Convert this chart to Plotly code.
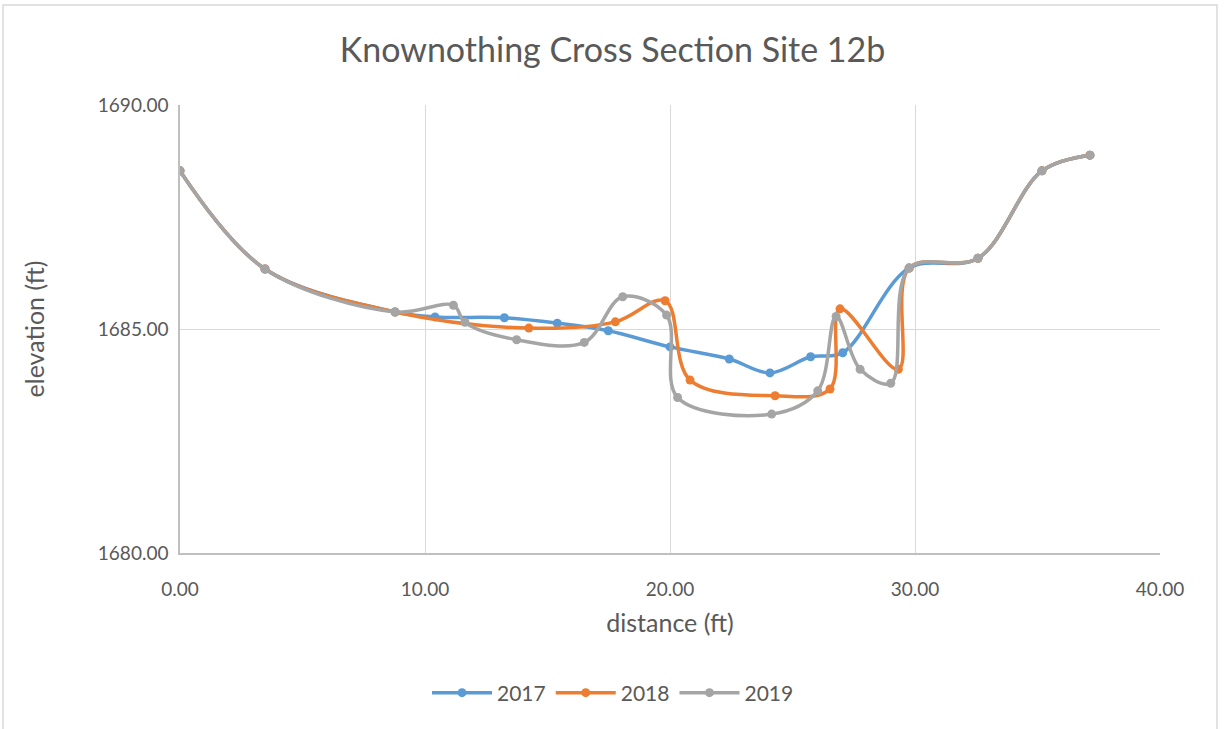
import plotly.graph_objects as go

# Survey stations (distance along the transect, ft) and surveyed elevations (ft)
dist_2017 = [0.00, 3.47, 8.78, 10.41, 13.24, 15.40, 17.48, 20.00, 22.42, 24.08, 25.74, 27.05, 29.76, 32.57, 35.18, 37.14]
elev_2017 = [1688.53, 1686.34, 1685.38, 1685.27, 1685.25, 1685.13, 1684.96, 1684.60, 1684.33, 1684.02, 1684.38, 1684.47, 1686.36, 1686.58, 1688.53, 1688.88]

dist_2018 = [0.00, 3.47, 8.78, 14.24, 17.77, 19.80, 20.82, 24.29, 26.53, 26.94, 29.32, 29.76, 32.57, 35.18, 37.14]
elev_2018 = [1688.53, 1686.34, 1685.38, 1685.02, 1685.16, 1685.63, 1683.86, 1683.51, 1683.66, 1685.45, 1684.10, 1686.36, 1686.58, 1688.53, 1688.88]

dist_2019 = [0.00, 3.47, 8.78, 11.16, 11.63, 13.74, 16.50, 18.07, 19.86, 20.31, 24.15, 26.03, 26.78, 27.76, 29.01, 29.76, 32.57, 35.18, 37.14]
elev_2019 = [1688.53, 1686.34, 1685.38, 1685.53, 1685.15, 1684.76, 1684.70, 1685.72, 1685.31, 1683.47, 1683.10, 1683.62, 1685.28, 1684.10, 1683.79, 1686.36, 1686.58, 1688.53, 1688.88]

series = [
    ("2017", dist_2017, elev_2017, "#5B9BD5"),
    ("2018", dist_2018, elev_2018, "#ED7D31"),
    ("2019", dist_2019, elev_2019, "#A5A5A5"),
]

x_ticks = [0, 10, 20, 30, 40]
y_ticks = [1680, 1685, 1690]

FONT = "Lato"
TEXT = "#595959"

fig = go.Figure()
for name, xs, ys, color in series:
    fig.add_trace(go.Scatter(
        x=xs, y=ys, name=name, mode="lines+markers",
        line=dict(color=color, width=3.5, shape="spline", smoothing=1.0),
        marker=dict(color=color, size=9),
    ))

fig.update_layout(
    width=1225, height=729,
    margin=dict(l=180, r=65, t=105, b=176),
    paper_bgcolor="white", plot_bgcolor="white",
    font=dict(family=FONT, color=TEXT, size=19),
    title=dict(text="Knownothing Cross Section Site 12b", x=0.5, xanchor="center",
               y=1 - 50 / 729, yanchor="middle",
               font=dict(family=FONT, size=34, color=TEXT)),
    showlegend=True,
    legend=dict(orientation="h", x=0.5 - 57 / 980, xanchor="center", y=-140 / 448, yanchor="middle",
                font=dict(size=21, color=TEXT), itemwidth=60),
    xaxis=dict(range=[0, 40], tickvals=x_ticks, tickformat=".2f",
               showgrid=True, gridcolor="#D9D9D9", gridwidth=1,
               showline=True, linecolor="#BFBFBF", linewidth=1.5,
               zeroline=False, ticks="", ticklen=0, ticklabelstandoff=18,
               title=dict(text="distance (ft)", font=dict(size=25, color=TEXT), standoff=16),
               tickfont=dict(size=19, color=TEXT)),
    yaxis=dict(range=[1680, 1690], tickvals=y_ticks, tickformat=".2f",
               showgrid=True, gridcolor="#D9D9D9", gridwidth=1,
               showline=True, linecolor="#BFBFBF", linewidth=1.5,
               zeroline=False, ticks="", ticklabelstandoff=6,
               title=dict(text="elevation (ft)", font=dict(size=25, color=TEXT), standoff=46),
               tickfont=dict(size=19, color=TEXT)),
)

# Outer chart frame
fig.add_shape(type="rect", xref="paper", yref="paper",
              x0=-177 / 980, x1=(1217 - 180) / 980,
              y0=-(729 - 553 + 4) / 448, y1=(553 - 5) / 448,
              line=dict(color="#D9D9D9", width=1.5), fillcolor="rgba(0,0,0,0)", layer="below")

fig.write_html("out.html")
